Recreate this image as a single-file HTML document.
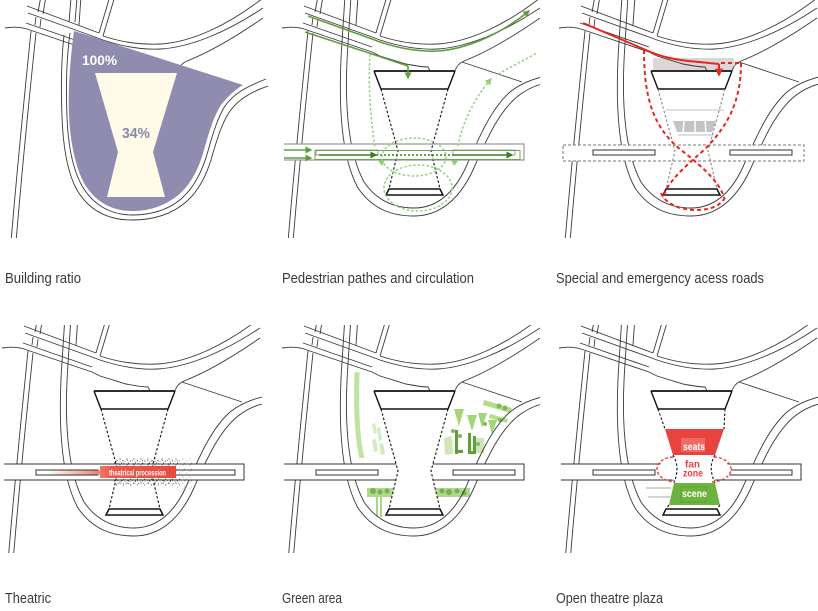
<!DOCTYPE html>
<html><head><meta charset="utf-8">
<style>html,body{margin:0;padding:0;background:#fff;width:818px;height:611px;overflow:hidden}svg{display:block}</style>
</head><body>
<svg width="818" height="611" viewBox="0 0 818 611" xmlns="http://www.w3.org/2000/svg">
<defs>
 <marker id="ag" viewBox="0 0 10 10" refX="8" refY="5" markerWidth="7" markerHeight="7" markerUnits="userSpaceOnUse" orient="auto"><path d="M0,0 L10,5 L0,10 Z" fill="#5e9f3c"/></marker>
 <marker id="agd" viewBox="0 0 10 10" refX="8" refY="5" markerWidth="7" markerHeight="7" markerUnits="userSpaceOnUse" orient="auto"><path d="M0,0 L10,5 L0,10 Z" fill="#3d7a22"/></marker>
 <marker id="agl" viewBox="0 0 10 10" refX="8" refY="5" markerWidth="7" markerHeight="7" markerUnits="userSpaceOnUse" orient="auto"><path d="M0,0 L10,5 L0,10 Z" fill="#8fd27a"/></marker>
 <marker id="ar" viewBox="0 0 10 10" refX="8" refY="5" markerWidth="8" markerHeight="8" markerUnits="userSpaceOnUse" orient="auto"><path d="M0,0 L10,5 L0,10 Z" fill="#e8261e"/></marker>
 <pattern id="nz" width="5" height="5" patternUnits="userSpaceOnUse">
  <rect x="0" y="0" width="1" height="1" fill="#555"/><rect x="2.5" y="1" width="1" height="1" fill="#888"/>
  <rect x="1" y="3" width="1" height="1" fill="#666"/><rect x="3.5" y="3.5" width="1" height="1" fill="#999"/>
 </pattern>
 <pattern id="nz2" width="7" height="6" patternUnits="userSpaceOnUse">
  <rect x="1.5" y="0.5" width="1" height="1" fill="#444"/><rect x="5" y="2.5" width="1" height="1" fill="#777"/>
  <rect x="3" y="4.5" width="1" height="1" fill="#555"/>
 </pattern>
 <linearGradient id="gr" x1="0" y1="0" x2="1" y2="0"><stop offset="0" stop-color="#fff"/><stop offset="1" stop-color="#f0806a"/></linearGradient>
 <linearGradient id="rg" x1="0" y1="0" x2="1" y2="0"><stop offset="0" stop-color="#f27766"/><stop offset="0.15" stop-color="#ec5a4c"/><stop offset="1" stop-color="#e84a40"/></linearGradient>
 <clipPath id="c1"><rect x="0" y="0" width="268" height="238"/></clipPath>
 <clipPath id="c2"><rect x="274" y="0" width="266" height="238"/></clipPath>
 <clipPath id="c3"><rect x="551" y="0" width="267" height="238"/></clipPath>
 <clipPath id="c4"><rect x="0" y="325" width="262" height="228"/></clipPath>
 <clipPath id="c5"><rect x="276" y="325" width="264" height="228"/></clipPath>
 <clipPath id="c6"><rect x="553" y="325" width="265" height="228"/></clipPath>

 <g id="roads">
  <path d="M32,6 L104,33"/>
  <path d="M33,13 L100,37 L108,40 C126,46 146,50 166,49 C196,47 232,32 268,8"/>
  <path d="M31,23 L100,47"/>
  <path d="M10,28 Q22,26 32,29 L100,52 Q104,54 108,56 L134,64 Q150,67 156,67 L158,71"/>
  <path d="M46,-4 L43,12"/><path d="M51,-4 L48,14"/>
  <path d="M41,17 L40,25"/><path d="M46,19 L45,27"/>
  <path d="M36,31 C30,90 22,170 16,242"/><path d="M41,33 C35,90 27,170 21,242"/>
  <path d="M115,-4 L104,33"/><path d="M120,-4 L108,36"/>
  <path d="M108,36 C126,42 146,45 166,44 C196,42 232,26 268,-2"/>
  <path d="M183,71 Q185,64 192,61 C215,52 242,36 268,18"/>
  <path d="M86,-4 L84,25"/>
 </g>
 <path id="ne" d="M190,62 L250,82"/>
 <g id="ul">
  <path d="M73,-4 L70,42 C66,100 68,155 86,188 C101,210 121,216 142,216 C167,216 187,200 201,170 C213,143 226,112 246,96 C255,89 262,86 270,84"/>
  <path d="M79,-4 L76,44 C72,100 75,150 92,182 C105,201 123,208 142,208 C163,208 181,195 194,167 C206,140 218,110 238,92 C248,84 258,80 270,77"/>
 </g>
 <g id="hgT" fill="none" stroke="#111"><path d="M102,71 L183,71" stroke-width="1.8"/><path d="M102,71 L109,89 L176,89 L183,71" stroke-width="1.4"/></g>
 <path id="hgS" fill="none" stroke-dasharray="2.5 2" stroke-width="1.1" d="M109,89 L126,151 L117,189 M176,89 L159,151 L168,189"/>
 <path id="hgB" fill="none" stroke="#111" stroke-width="1.5" d="M117,189 L168,189 L171,195 L114,195 Z"/>
 <path id="bandO" d="M12,144 L252,144 L252,160 L12,160"/>
 <g id="slots"><rect x="44" y="150" width="62" height="5"/><rect x="181" y="150" width="62" height="5"/></g>
</defs>

<rect width="818" height="611" fill="#fff"/>

<!-- Panel 1: Building ratio -->
<g clip-path="url(#c1)">
 <g transform="translate(-5,0)" fill="none" stroke="#3a3a3a" stroke-width="0.9"><use href="#roads"/></g>
 <g fill="none" stroke="#3a3a3a" stroke-width="0.9">
  <path d="M77,-2 L75,22 M70,33 C66,62 66,92 67,117 C68,143 72,168 82,186 C94,206 112,215 132,215 C152,215 168,210 181,199 C195,187 203,169 208,151 C213,133 218,117 225,106 C233,95 243,88 266,79"/>
  <path d="M71,-2 L69,22 M64,35 C61,62 61,92 62,117 C63,145 67,172 77,190 C90,212 110,220 132,220 C154,220 172,214 186,202 C200,190 208,172 213,153 C218,136 223,121 230,111 C238,100 250,92 268,86"/>
 </g>
 <path d="M74,31 L243,85 C236,89 228,96 221,105 C214,116 209,132 204,150 C199,168 191,185 177,196 C164,206 150,211 132,211 C112,211 95,202 84,183 C75,166 70,140 69,115 C68,90 70,60 74,31 Z" fill="#8f8cb0"/>
 <path d="M95,73 L177,73 L153,152 L165,197 L107,197 L118,152 Z" fill="#fffbe8"/>
 <text x="82" y="65" font-family="'Liberation Sans Narrow','Liberation Sans',Arial,sans-serif" font-weight="bold" font-size="14" fill="#fff" textLength="35" lengthAdjust="spacingAndGlyphs">100%</text>
 <text x="122" y="138" font-family="'Liberation Sans Narrow','Liberation Sans',Arial,sans-serif" font-weight="bold" font-size="15" fill="#8b88ad" textLength="28" lengthAdjust="spacingAndGlyphs">34%</text>
</g>

<!-- Panel 2: Pedestrian -->
<g clip-path="url(#c2)"><g transform="translate(272,0)">
 <g fill="none" stroke="#3a3a3a" stroke-width="0.9"><use href="#roads"/><use href="#ne"/><use href="#ul"/></g>
 <use href="#bandO" fill="#fff" stroke="#999" stroke-width="1.2"/>
 <use href="#slots" fill="none" stroke="#888" stroke-width="0.8"/>
 <use href="#hgT"/><use href="#hgS" stroke="#111"/><use href="#hgB"/>
 <g fill="none" stroke="#5e9f3c" stroke-width="1.6">
  <path d="M36,16 L100,39 L108,42 C126,48 146,52 166,51 C196,49 230,33 257,11" marker-end="url(#ag)"/>
  <path d="M33,32 L100,54 L136,66"/>
  <path d="M136,66 L136,78" marker-end="url(#ag)"/>
  <path d="M12,150 L39,150" marker-end="url(#ag)"/>
  <path d="M12,158 L39,158" marker-end="url(#ag)"/>
 </g>
 <rect x="43" y="150.5" width="205" height="9" fill="none" stroke="#6aa84f" stroke-width="1"/>
 <g fill="none" stroke="#3d7a22" stroke-width="1.6">
  <path d="M47,155 L104,155" marker-end="url(#agd)"/>
  <path d="M180,155 L240,155" marker-end="url(#agd)"/>
  <path d="M104,155 L180,155" stroke-dasharray="2 2"/>
 </g>
 <g fill="none" stroke="#93d17e" stroke-width="1.5" stroke-dasharray="2.5 2">
  <path d="M98,54 C96,90 99,120 103,148"/>
  <path d="M186,146 C190,122 204,96 219,79" marker-end="url(#agl)"/>
  <path d="M226,74 L265,53"/>
  <ellipse cx="142" cy="157" rx="32" ry="19"/>
  <ellipse cx="146" cy="188" rx="34" ry="23"/>
 </g>
 <path d="M106,161 L113,160 L110,166 Z" fill="#8fd27a"/>
 <path d="M186,161 L179,160 L182,166 Z" fill="#8fd27a"/>
</g></g>

<!-- Panel 3: Emergency -->
<g clip-path="url(#c3)"><g transform="translate(549,0)">
 <rect x="104" y="58" width="81" height="12" fill="#ddd6d6"/>
 <g fill="none" stroke="#3a3a3a" stroke-width="0.9"><use href="#roads"/><use href="#ne"/><use href="#ul"/></g>
 <rect x="14" y="145" width="241" height="16" fill="#fff" stroke="#777" stroke-width="1" stroke-dasharray="3 2"/>
 <use href="#slots" fill="#fff" stroke="#333" stroke-width="1"/>
 <line x1="117" y1="110" x2="175" y2="110" stroke="#ccc" stroke-width="1.2"/>
 <path d="M124,121 L167,121 L163,132 L128,132 Z" fill="#c4c4c4"/>
 <path d="M135,120 L134,133 M146,120 L146,133 M156,120 L157,133" stroke="#fff" stroke-width="1.5"/>
 <line x1="129" y1="135" x2="164" y2="135" stroke="#ccc" stroke-width="1.2"/>
 <use href="#hgT"/><use href="#hgS" stroke="#888"/><use href="#hgB"/>
 <g fill="none" stroke="#e8261e" stroke-width="2">
  <path d="M34,23 L97,50 C108,55 122,60 150,62 L170,64"/>
  <path d="M170,64 L170,75" marker-end="url(#ar)"/>
  <g stroke-dasharray="4 3">
   <path d="M95,50 C95,100 105,128 132,150 C158,170 172,185 175,198"/>
   <path d="M192,63 C192,100 180,125 155,150 C132,170 118,183 114,198"/>
   <path d="M172,63 L192,63"/>
   <path d="M112,193 C117,205 133,210 147,210 C162,210 174,205 177,195"/>
  </g>
 </g>
</g></g>

<!-- Panel 4: Theatric -->
<g clip-path="url(#c4)"><g transform="translate(-8,320)">
 <g fill="none" stroke="#3a3a3a" stroke-width="0.9"><use href="#roads"/><use href="#ne"/><use href="#ul"/></g>
 <use href="#bandO" fill="#fff" stroke="#333" stroke-width="1"/>
 <use href="#slots" fill="#fff" stroke="#333" stroke-width="1"/>
 <rect x="55" y="150.5" width="53" height="4" fill="url(#gr)"/>
 <use href="#hgT"/><use href="#hgS" stroke="#111"/><use href="#hgB"/>
 <rect x="124" y="139" width="62" height="6" fill="url(#nz)" opacity="0.8"/>
 <rect x="122" y="138" width="66" height="8" fill="url(#nz2)"/>
 <rect x="124" y="159" width="64" height="6" fill="url(#nz)" opacity="0.8"/>
 <rect x="122" y="158" width="68" height="8" fill="url(#nz2)"/>
 <rect x="184" y="138" width="16" height="34" fill="url(#nz2)" opacity="0.45"/>
 <rect x="108" y="146" width="76" height="12" fill="url(#rg)"/>
 <text x="117" y="155.5" font-family="'Liberation Sans Narrow','Liberation Sans',Arial,sans-serif" font-weight="bold" font-size="8.5" fill="#fff" textLength="57" lengthAdjust="spacingAndGlyphs">theatrical procession</text>
</g></g>

<!-- Panel 5: Green area -->
<g clip-path="url(#c5)"><g transform="translate(272,320)">
 <path d="M85,52 C84,90 85,118 90,138" stroke="#bfe3a0" stroke-width="5" fill="none"/>
 <g fill="#d4eabf">
  <polygon points="100,104 103,103 105,113 102,114"/>
  <polygon points="105,108 108,107 110,120 107,121"/>
  <polygon points="100,120 104,119 106,131 102,132"/>
  <polygon points="107,124 111,123 113,134 109,135"/>
 </g>
 <polygon points="172,118 180,116 181,134 173,135" fill="#cfe8b5"/>
 <rect x="204" y="118" width="8" height="15" fill="#cde6b3"/>
 <polygon points="212,80 240,88 238,93 211,85" fill="#b5dc8c"/>
 <polygon points="218,94 236,99 235,103 217,98" fill="#b5dc8c"/>
 <g fill="#a6d47a">
  <polygon points="182,89 192,89 187,106"/>
  <polygon points="195,95 205,95 200,111"/>
  <polygon points="206,93 215,93 210,108"/>
  <polygon points="216,100 225,100 220,114"/>
 </g>
 <g fill="#5d9f38">
  <rect x="183" y="110" width="3" height="24"/><rect x="196" y="113" width="3" height="21"/><rect x="201" y="116" width="3" height="18"/>
  <rect x="183" y="130" width="8" height="3"/><rect x="196" y="131" width="8" height="3"/>
 </g>
 <g fill="#7fb85a">
  <circle cx="227" cy="86" r="2.5"/><circle cx="233" cy="88" r="2.5"/><circle cx="228" cy="100" r="2"/>
  <circle cx="181" cy="111" r="2"/><circle cx="188" cy="116" r="2"/><circle cx="206" cy="124" r="2"/><circle cx="213" cy="104" r="2"/>
 </g>
 <rect x="95" y="168" width="26" height="9" fill="#afd98a"/>
 <rect x="164" y="168" width="34" height="9" fill="#afd98a"/>
 <g fill="#78b04f">
  <circle cx="101" cy="171" r="3"/><circle cx="108" cy="172" r="2.5"/><circle cx="115" cy="171" r="2.5"/>
  <circle cx="170" cy="171" r="2.5"/><circle cx="177" cy="172" r="3"/><circle cx="185" cy="171" r="2.5"/><circle cx="192" cy="173" r="2.5"/>
 </g>
 <path d="M105,177 L105,197 M109,177 L109,197" stroke="#8cc566" stroke-width="1.5"/>
 <g fill="none" stroke="#3a3a3a" stroke-width="0.9"><use href="#roads"/><use href="#ne"/><use href="#ul"/></g>
 <use href="#bandO" fill="#fff" stroke="#333" stroke-width="1"/>
 <use href="#slots" fill="#fff" stroke="#333" stroke-width="1"/>
 <path d="M109,89 L126,151 L117,189 L168,189 L159,151 L176,89 Z" fill="#fff"/>
 <use href="#hgT"/><use href="#hgS" stroke="#111"/><use href="#hgB"/>
</g></g>

<!-- Panel 6: Open theatre plaza -->
<g clip-path="url(#c6)"><g transform="translate(549,320)">
 <g fill="none" stroke="#3a3a3a" stroke-width="0.9"><use href="#roads"/><use href="#ne"/><use href="#ul"/></g>
 <use href="#bandO" fill="#fff" stroke="#333" stroke-width="1"/>
 <use href="#slots" fill="#fff" stroke="#333" stroke-width="1"/>
 <path d="M97,168 L122,168 M99,177 L121,177" stroke="#aaa" stroke-width="1"/>
 <path d="M109,89 L116,109 L124,135 L129,149 L125,163 L120,185 L117,189 L168,189 L171,185 L166,163 L161,149 L166,135 L175,109 L176,89 Z" fill="#fff"/>
 <ellipse cx="145" cy="149.5" rx="37" ry="12.5" fill="#fff"/>
 <use href="#hgT"/>
 <g fill="none" stroke="#111" stroke-width="1.1" stroke-dasharray="2.5 2">
  <path d="M109,89 L116,109 M176,89 L175,109"/>
  <path d="M124,135 C128,142 130,150 125,163 M166,135 C162,142 160,150 166,163"/>
  <path d="M120,185 L117,189 M171,185 L168,189"/>
 </g>
 <path d="M116,109 L175,109 L166,135 L124,135 Z" fill="#e8433f"/>
 <rect x="132" y="118" width="24" height="14" fill="#ee6a62"/>
 <path d="M125,163 L166,163 L171,185 L120,185 Z" fill="#6db33f"/>
 <rect x="132" y="167" width="25" height="15" fill="none" stroke="#5a9a30" stroke-width="0.7"/>
 <use href="#hgB"/>
 <g fill="none" stroke="#e8433f" stroke-width="1.4" stroke-dasharray="3 2">
  <path d="M124,137 C112,138 108,144 108,149 C108,155 114,161 126,162"/>
  <path d="M165,137 C177,138 182,144 182,149 C182,155 176,161 163,162"/>
 </g>
 <g font-family="'Liberation Sans Narrow','Liberation Sans',Arial,sans-serif" font-weight="bold" font-size="10">
  <text x="134" y="130" fill="#fff" textLength="22" lengthAdjust="spacingAndGlyphs">seats</text>
  <text x="136" y="147.5" fill="#e8433f" textLength="15" lengthAdjust="spacingAndGlyphs">fan</text>
  <text x="134" y="156.5" fill="#e8433f" textLength="20" lengthAdjust="spacingAndGlyphs">zone</text>
  <text x="133" y="177" fill="#fff" textLength="25" lengthAdjust="spacingAndGlyphs">scene</text>
 </g>
</g></g>

<!-- Captions -->
<g font-family="'Liberation Sans Narrow','Liberation Sans',Arial,sans-serif" font-size="15" fill="#3a3a3a">
 <text x="5" y="283" textLength="76" lengthAdjust="spacingAndGlyphs">Building ratio</text>
 <text x="282" y="283" textLength="192" lengthAdjust="spacingAndGlyphs">Pedestrian pathes and circulation</text>
 <text x="556" y="283" textLength="208" lengthAdjust="spacingAndGlyphs">Special and emergency acess roads</text>
 <text x="5" y="603" textLength="46" lengthAdjust="spacingAndGlyphs">Theatric</text>
 <text x="282" y="603" textLength="60" lengthAdjust="spacingAndGlyphs">Green area</text>
 <text x="556" y="603" textLength="107" lengthAdjust="spacingAndGlyphs">Open theatre plaza</text>
</g>
</svg>
</body></html>
